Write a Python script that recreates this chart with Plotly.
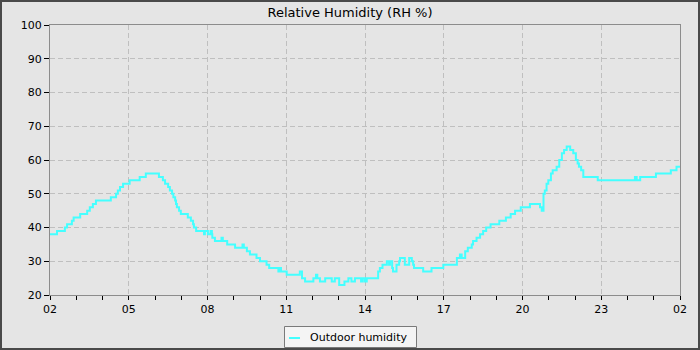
import pandas as pd
import plotly.graph_objects as go

# Outdoor relative humidity, step changes over one day starting at 02:00
# (minutes after 02:00, humidity in %)
minutes = [0, 16, 34, 39, 50, 54, 69, 85, 91, 98, 105, 139, 151, 155, 160, 167, 182, 205, 219,
           249, 258, 263, 270, 274, 279, 282, 286, 288, 290, 295, 299, 315, 322, 327, 329, 334,
           352, 354, 361, 367, 370, 371, 377, 392, 395, 405, 423, 440, 443, 450, 457, 472, 480,
           495, 501, 522, 525, 528, 541, 571, 576, 583, 602, 608, 611, 617, 629, 644, 651, 661,
           673, 682, 689, 697, 711, 715, 720, 724, 750, 754, 760, 770, 775, 777, 782, 784, 792,
           798, 800, 811, 821, 827, 830, 832, 853, 872, 899, 930, 937, 941, 949, 955, 964, 967,
           975, 983, 990, 997, 1007, 1027, 1042, 1053, 1063, 1076, 1097, 1120, 1124, 1128, 1131,
           1135, 1139, 1145, 1149, 1158, 1164, 1170, 1175, 1181, 1189, 1196, 1202, 1206, 1209,
           1214, 1219, 1252, 1337, 1341, 1349, 1385, 1419, 1432, 1440]
humidity = [38, 39, 40, 41, 42, 43, 44, 45, 46, 47, 48, 49, 50, 51, 52, 53, 54, 55, 56,
            55, 54, 53, 52, 51, 50, 49, 48, 47, 46, 45, 44, 43, 42, 41, 40, 39,
            38, 39, 38, 39, 38, 37, 36, 37, 36, 35, 34, 35, 34, 33, 32, 31, 30,
            29, 28, 27, 28, 27, 26, 27, 25, 24, 25, 26, 25, 24, 25, 24, 25, 23,
            24, 25, 24, 25, 24, 25, 24, 25, 27, 28, 29, 30, 29, 30, 28, 27, 29,
            30, 31, 29, 31, 30, 29, 28, 27, 28, 29, 31, 32, 31, 33, 34, 35, 36,
            37, 38, 39, 40, 41, 42, 43, 44, 45, 46, 47, 46, 45, 50, 51,
            53, 54, 56, 57, 58, 60, 62, 63, 64, 63, 62, 60, 59, 58,
            57, 55, 54, 55, 54, 55, 56, 57, 58, 58]

y_ticks = [20, 30, 40, 50, 60, 70, 80, 90, 100]
series_name = "Outdoor humidity"
chart_title = "Relative Humidity (RH %)"

start = pd.Timestamp("2024-05-14 02:00")
times = [start + pd.Timedelta(minutes=m) for m in minutes]
end = start + pd.Timedelta(hours=24)

W, H = 700, 350
L, R, T, B = 50, 20, 25, 55
PW, PH = W - L - R, H - T - B
BG = "#e5e5e5"
AXIS = "#8c8c8c"
GRID = "#bfbfbf"
GRID_DASH = "5px,3px"
LINE = "#44ffff"
FONT = "DejaVu Sans"


def px_x(px):
    """Pixel column -> paper x."""
    return (px - L) / PW


def px_y(py):
    """Pixel row -> paper y."""
    return (H - B - py) / PH


fig = go.Figure()
fig.add_trace(go.Scatter(
    x=times, y=humidity, mode="lines", line_shape="hv",
    line=dict(color=LINE, width=2), name=series_name, showlegend=False,
))

fig.update_layout(
    width=W, height=H,
    margin=dict(l=L, r=R, t=T, b=B, autoexpand=False),
    paper_bgcolor=BG, plot_bgcolor=BG,
    font=dict(family=FONT, size=11, color="#000000"),
    title=dict(text=chart_title, x=0.5, xanchor="center", y=1 - 12 / H, yanchor="middle",
               font=dict(family=FONT, size=13, color="#000000")),
    showlegend=False,
)

fig.update_xaxes(
    type="date", range=[start, end], tick0=start, dtick=3 * 3600 * 1000,
    tickformat="%H", ticks="outside", ticklen=4, tickcolor="#000000",
    showline=True, linecolor=AXIS, linewidth=1, mirror=True,
    showgrid=True, gridcolor=GRID, griddash=GRID_DASH, gridwidth=1,
    zeroline=False,
    minor=dict(dtick=3600 * 1000, tick0=start, ticks="outside", ticklen=4,
               tickcolor="#000000", showgrid=False),
    tickfont=dict(family=FONT, size=11, color="#000000"),
)
fig.update_yaxes(
    range=[20, 100], tickvals=y_ticks, ticks="outside", ticklen=5, tickcolor="#000000",
    showline=True, linecolor=AXIS, linewidth=1, mirror=True,
    showgrid=True, gridcolor=GRID, griddash=GRID_DASH, gridwidth=1,
    zeroline=False,
    tickfont=dict(family=FONT, size=11, color="#000000"),
)

# Legend box below the plot: frame, line sample, label
fig.add_shape(type="rect", xref="paper", yref="paper",
              x0=px_x(284.5), x1=px_x(416.5), y0=px_y(347.5), y1=px_y(326.5),
              line=dict(color="#7a7a7a", width=1), fillcolor="#f4f4f4", layer="above")
fig.add_shape(type="line", xref="paper", yref="paper",
              x0=px_x(289), x1=px_x(300), y0=px_y(338), y1=px_y(338),
              line=dict(color=LINE, width=2), layer="above")
fig.add_annotation(
    xref="paper", yref="paper", x=px_x(308), y=px_y(337.5), xanchor="left", yanchor="middle",
    text=series_name, showarrow=False,
    font=dict(family=FONT, size=11, color="#000000"),
)

# Dark frame around the whole image
fig.add_shape(type="rect", xref="paper", yref="paper",
              x0=px_x(0.5), x1=px_x(699.5), y0=px_y(349.5), y1=px_y(0.5),
              line=dict(color="#4a4a4a", width=3), fillcolor="rgba(0,0,0,0)", layer="above")

fig.write_html("out.html")
